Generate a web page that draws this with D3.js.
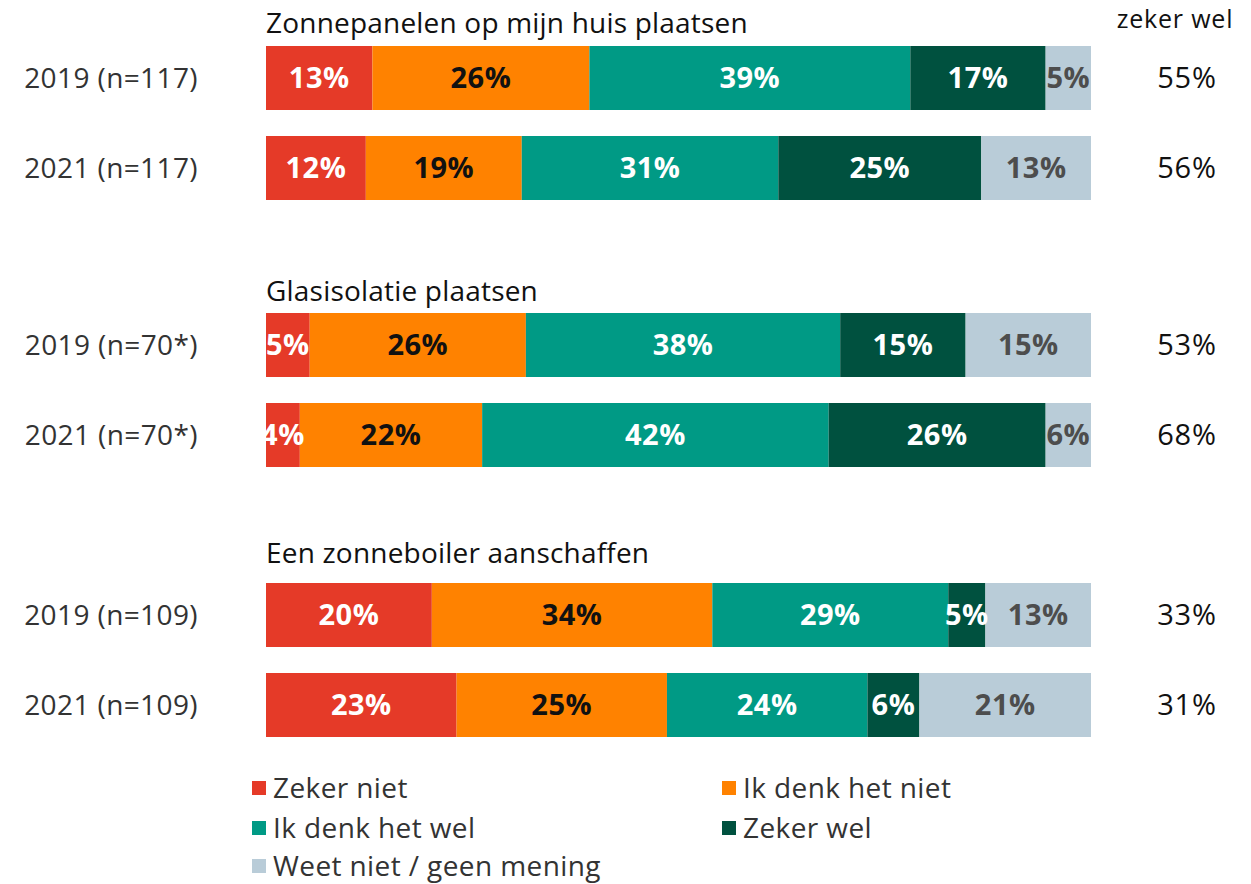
<!DOCTYPE html>
<html><head><meta charset="utf-8">
<script src="https://cdn.jsdelivr.net/npm/d3@7"></script>
<style>body{margin:0;background:#fff;} svg{display:block;font-family:"Open Sans",sans-serif;}</style>
</head><body>
<svg id="c" width="1251" height="884"></svg>
<script>
const series = ["Zeker niet","Ik denk het niet","Ik denk het wel","Zeker wel","Weet niet / geen mening"];
const colors = ["#E53A28","#FF8200","#009A85","#00513F","#B9CCD8"];
const labelColors = ["#ffffff","#111111","#ffffff","#ffffff","#4d4d4d"];
const groups = ["Zonnepanelen op mijn huis plaatsen","Glasisolatie plaatsen","Een zonneboiler aanschaffen"];
const rowLabels = ["2019 (n=117)","2021 (n=117)","2019 (n=70*)","2021 (n=70*)","2019 (n=109)","2021 (n=109)"];
// bar shares
const zekerNiet    = [12.9,12.1, 5.3, 4.1,20.1,23.1];
const denkNiet     = [26.3,18.9,26.2,22.1,34.0,25.5];
const denkWel      = [38.9,31.1,38.1,42.0,28.6,24.3];
const zekerWel     = [16.4,24.6,15.2,26.3, 4.5, 6.3];
const weetNiet     = [ 5.5,13.3,15.2, 5.5,12.8,20.8];
// printed labels
const lblZekerNiet = [13,12,5,4,20,23];
const lblDenkNiet  = [26,19,26,22,34,25];
const lblDenkWel   = [39,31,38,42,29,24];
const lblZekerWel  = [17,25,15,26,5,6];
const lblWeetNiet  = [5,13,15,6,13,21];
const totalHeader = "zeker wel";
const totalWel = [55,56,53,68,33,31];

const vals = [zekerNiet,denkNiet,denkWel,zekerWel,weetNiet];
const lbls = [lblZekerNiet,lblDenkNiet,lblDenkWel,lblZekerWel,lblWeetNiet];

const svg = d3.select("#c");
const x = d3.scaleLinear().domain([0,100]).range([266,1091]);
const y = d3.scaleOrdinal().domain(d3.range(6)).range([46,136,313,403,583,673]);
const barH = 64;

const rows = rowLabels.map((r,i)=>{
  const o = {i};
  series.forEach((s,k)=>o[s]=vals[k][i]);
  return o;
});
const stack = d3.stack().keys(series)(rows);

svg.append("defs").append("clipPath").attr("id","clip")
  .append("rect").attr("x",x(0)).attr("y",0).attr("width",x(100)-x(0)+2).attr("height",884);

const g = svg.append("g").attr("clip-path","url(#clip)");
stack.forEach((layer,k)=>{
  g.selectAll(null).data(layer).join("rect")
    .attr("x",d=>x(d[0])).attr("y",(d,i)=>y(i))
    .attr("width",d=>x(d[1])-x(d[0])).attr("height",barH)
    .attr("fill",colors[k]);
});
stack.forEach((layer,k)=>{
  g.selectAll(null).data(layer).join("text")
    .attr("x",d=>(x(d[0])+x(d[1]))/2).attr("y",(d,i)=>y(i)+barH/2)
    .attr("dy","0.36em").attr("text-anchor","middle")
    .attr("font-size",29).attr("font-weight",700).attr("fill",labelColors[k])
    .attr("letter-spacing",0.5)
    .text((d,i)=>lbls[k][i]+"%");
});

// group titles
const titleY = [33,301,563];
svg.selectAll(".gt").data(groups).join("text")
  .attr("x",266).attr("y",(d,i)=>titleY[i])
  .attr("font-size",28).attr("letter-spacing",0.2).attr("fill","#111").text(d=>d);

// row labels
svg.selectAll(".rl").data(rowLabels).join("text")
  .attr("x",198).attr("y",(d,i)=>y(i)+barH/2).attr("dy","0.36em")
  .attr("text-anchor","end").attr("font-size",28).attr("letter-spacing",0.4)
  .attr("fill","#333").text(d=>d);

// right column
svg.append("text").attr("x",1175).attr("y",28).attr("text-anchor","middle")
  .attr("font-size",25).attr("letter-spacing",0.8).attr("fill","#111").text(totalHeader);
svg.selectAll(".tw").data(totalWel).join("text")
  .attr("x",1187).attr("y",(d,i)=>y(i)+barH/2).attr("dy","0.36em")
  .attr("text-anchor","middle").attr("font-size",29).attr("letter-spacing",0.8)
  .attr("fill","#111").text(d=>d+"%");

// legend
const legPos = [[252,788],[722,788],[252,828],[722,828],[252,866]];
const lg = svg.selectAll(".lg").data(series).join("g")
  .attr("transform",(d,i)=>`translate(${legPos[i][0]},${legPos[i][1]})`);
lg.append("rect").attr("x",0).attr("y",-7).attr("width",14).attr("height",14).attr("fill",(d,i)=>colors[i]);
lg.append("text").attr("x",21).attr("y",0).attr("dy","0.36em")
  .attr("font-size",28).attr("letter-spacing",0.4).attr("fill","#333").text(d=>d);
</script>
</body></html>
